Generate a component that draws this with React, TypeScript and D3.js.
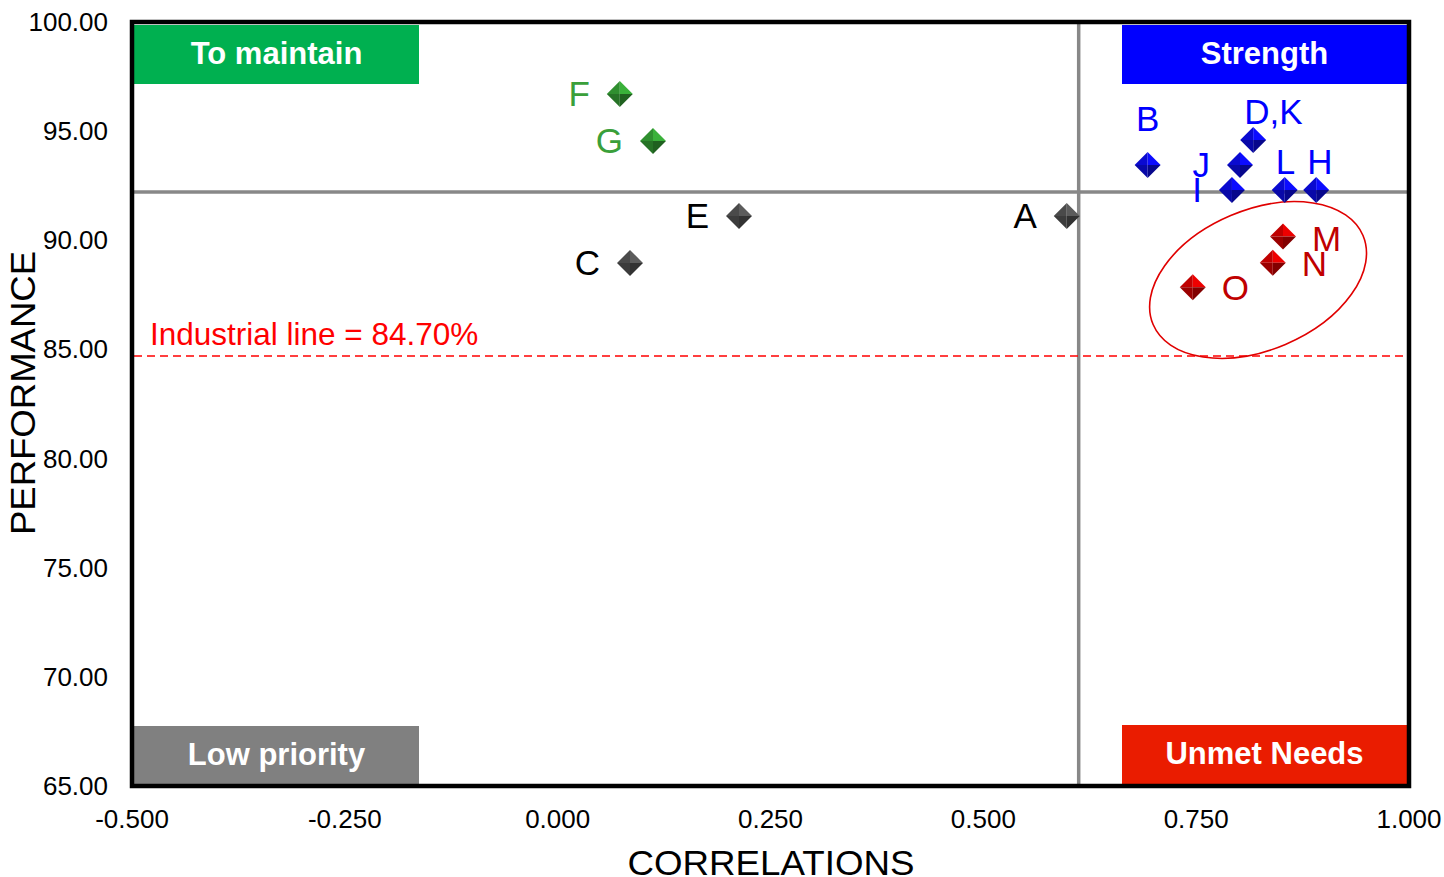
import React from "react";
import * as d3 from "d3";

const names = ["A", "B", "C", "D,K", "E", "F", "G", "H", "I", "J", "L", "M", "N", "O"];
const correlations = [0.598, 0.693, 0.085, 0.817, 0.213, 0.073, 0.112, 0.891, 0.792, 0.8015, 0.854, 0.852, 0.840, 0.746];
const performance = [91.11, 93.45, 88.96, 94.59, 91.11, 96.70, 94.55, 92.30, 92.30, 93.45, 92.30, 90.17, 88.97, 87.85];
const groups = ["gray", "blue", "gray", "blue", "gray", "green", "green", "blue", "blue", "blue", "blue", "red", "red", "red"];
const labelPos = ["left", "above", "left", "aboveRight", "left", "left", "left", "aboveRight", "left", "left", "aboveRight", "right", "right", "right"];

const xTicks = [-0.5, -0.25, 0, 0.25, 0.5, 0.75, 1.0];
const yTicks = [65, 70, 75, 80, 85, 90, 95, 100];
const meanCorrelation = 0.612;
const meanPerformance = 92.21;
const industrialLine = 84.7;
const quadrantLabels = ["To maintain", "Strength", "Low priority", "Unmet Needs"];
const quadrantColors = ["#00B050", "#0000FF", "#808080", "#EA1C00"];

const palette: Record<string, { base: string; text: string }> = {
  gray: { base: "#4a4a4a", text: "#000000" },
  blue: { base: "#0a0ad0", text: "#0000FF" },
  green: { base: "#2f8f2f", text: "#3A9F3A" },
  red: { base: "#c00000", text: "#C00000" },
};

const FONT = "'Liberation Sans', Arial, sans-serif";

function Diamond({ cx, cy, base }: { cx: number; cy: number; base: string }) {
  const r = 13;
  const c = d3.color(base)!;
  const light = c.brighter(0.6).toString();
  const mid = c.toString();
  const dark = c.darker(0.6).toString();
  const darker = c.darker(1.1).toString();
  const T = [cx, cy - r], R = [cx + r, cy], B = [cx, cy + r], L = [cx - r, cy], C = [cx, cy];
  const tri = (a: number[], b: number[]) => `M${a[0]},${a[1]}L${b[0]},${b[1]}L${C[0]},${C[1]}Z`;
  return (
    <g>
      <path d={tri(L, T)} fill={mid} />
      <path d={tri(T, R)} fill={light} />
      <path d={tri(R, B)} fill={darker} />
      <path d={tri(B, L)} fill={dark} />
    </g>
  );
}

export default function App() {
  const W = 1444, H = 877;
  const x = d3.scaleLinear().domain([-0.5, 1.0]).range([132, 1409]);
  const y = d3.scaleLinear().domain([65, 100]).range([786, 22]);
  const [x0, x1] = x.range();
  const [y0, y1] = [y(100), y(65)];
  const boxW = 285, boxH = 59;
  const boxes = [
    { x: x0 + 2, y: y0 + 3 },
    { x: x1 - 2 - boxW, y: y0 + 3 },
    { x: x0 + 2, y: y1 - 2 - boxH + 1 },
    { x: x1 - 2 - boxW, y: y1 - 2 - boxH },
  ];
  const fmtX = (v: number) => d3.format(".3f")(v).replace("\u2212", "-");
  const fmtY = (v: number) => d3.format(".2f")(v).replace("\u2212", "-");

  const ellCx = x(0.8227), ellCy = y(88.18);

  return (
    <svg width={W} height={H} style={{ position: "absolute", left: 0, top: 0, background: "#fff" }} fontFamily={FONT}>
      <rect x={0} y={0} width={W} height={H} fill="#fff" />
      {boxes.map((b, i) => (
        <g key={i}>
          <rect x={b.x} y={b.y} width={boxW} height={boxH} fill={quadrantColors[i]} />
          <text x={b.x + boxW / 2} y={b.y + boxH / 2 + 9} textAnchor="middle" fill="#fff" fontWeight="bold" fontSize={31}>
            {quadrantLabels[i]}
          </text>
        </g>
      ))}
      <line x1={x0} x2={x1} y1={y(meanPerformance)} y2={y(meanPerformance)} stroke="#888" strokeWidth={3.5} />
      <line x1={x(meanCorrelation)} x2={x(meanCorrelation)} y1={y0} y2={y1} stroke="#888" strokeWidth={3.5} />
      <line x1={x0 + 2} x2={x1 - 4} y1={y(industrialLine)} y2={y(industrialLine)} stroke="#FF0000" strokeWidth={1.6} strokeDasharray="8,5" />
      <text x={150} y={y(industrialLine) - 11} fill="#FF0000" fontSize={31.5}>
        Industrial line = 84.70%
      </text>
      <ellipse cx={ellCx} cy={ellCy} rx={114} ry={70} transform={`rotate(-23 ${ellCx} ${ellCy})`} fill="none" stroke="#E00000" strokeWidth={1.6} />
      {names.map((n, i) => {
        const px = x(correlations[i]);
        const py = y(performance[i]);
        const col = palette[groups[i]];
        const pos = labelPos[i];
        let tx = px, ty = py + 12, anchor: "start" | "middle" | "end" = "middle";
        if (pos === "left") { tx = px - 30; anchor = "end"; }
        else if (pos === "right") { tx = px + 29; anchor = "start"; ty = py + 13; }
        else if (pos === "above") { ty = py - 34; }
        else if (pos === "aboveRight") { tx = px - 9; ty = py - 16; anchor = "start"; }
        if (n === "M") { tx = px + 29; ty = py + 14; }
        return (
          <g key={n}>
            <Diamond cx={px} cy={py} base={col.base} />
            <text x={tx} y={ty} textAnchor={anchor} fill={col.text} fontSize={35}>{n}</text>
          </g>
        );
      })}
      <rect x={x0} y={y0} width={x1 - x0} height={y1 - y0} fill="none" stroke="#000" strokeWidth={4.5} />
      {yTicks.map((t) => (
        <text key={t} x={108} y={y(t) + 9} textAnchor="end" fontSize={26} fill="#000">{fmtY(t)}</text>
      ))}
      {xTicks.map((t) => (
        <text key={t} x={x(t)} y={828} textAnchor="middle" fontSize={26} fill="#000">{fmtX(t)}</text>
      ))}
      <text x={771} y={875} textAnchor="middle" fontSize={35} textLength={287} lengthAdjust="spacingAndGlyphs" fill="#000">CORRELATIONS</text>
      <text transform="translate(35,393) rotate(-90)" textAnchor="middle" fontSize={35} textLength={284} lengthAdjust="spacingAndGlyphs" fill="#000">PERFORMANCE</text>
    </svg>
  );
}
